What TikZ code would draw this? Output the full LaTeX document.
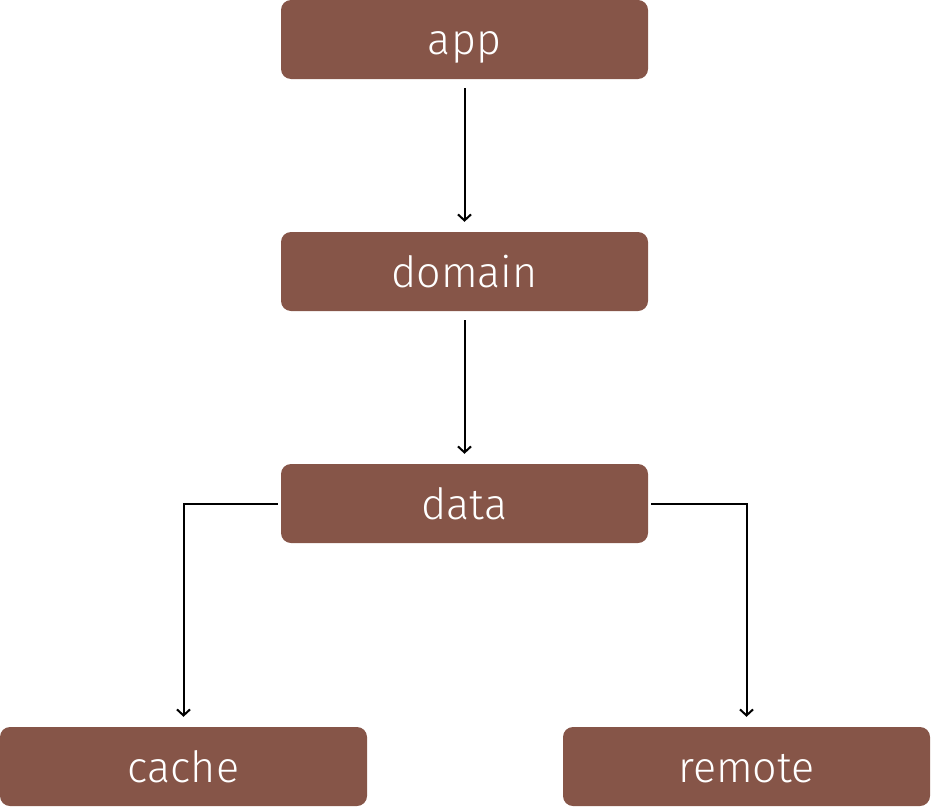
\documentclass[tikz,border=0pt]{standalone}
\usepackage{fontspec}
\setmainfont{Fira Sans}[UprightFont=* Light]
\usetikzlibrary{arrows.meta}
\definecolor{boxbrown}{RGB}{134,85,72}
\begin{document}
\begin{tikzpicture}[x=1pt,y=-1pt,
  box/.style={fill=boxbrown, rounded corners=10pt, minimum width=367pt, minimum height=79pt,
    inner sep=0pt, text=white, text height=31pt, text depth=0pt, font=\fontsize{43}{50}\selectfont},
  conn/.style={draw=black, line width=2pt, -{Straight Barb[length=6pt,width=13pt]}}]
\useasboundingbox (0,0) rectangle (931,808);
\node[box] (app) at (464.5,39.5) {app};
\node[box] (domain) at (464.5,271.5) {domain};
\node[box] (data) at (464.5,503.5) {data};
\node[box] (cache) at (183.5,766.5) {cache};
\node[box] (remote) at (746.5,766.5) {remote};
\draw[conn, shorten <=9pt, shorten >=10pt] (app.south) -- (domain.north);
\draw[conn, shorten <=9pt, shorten >=10pt] (domain.south) -- (data.north);
\draw[conn, shorten <=3pt, shorten >=10pt] (data.west) -| (cache.north);
\draw[conn, shorten <=3pt, shorten >=10pt] (data.east) -| (remote.north);
\end{tikzpicture}
\end{document}
